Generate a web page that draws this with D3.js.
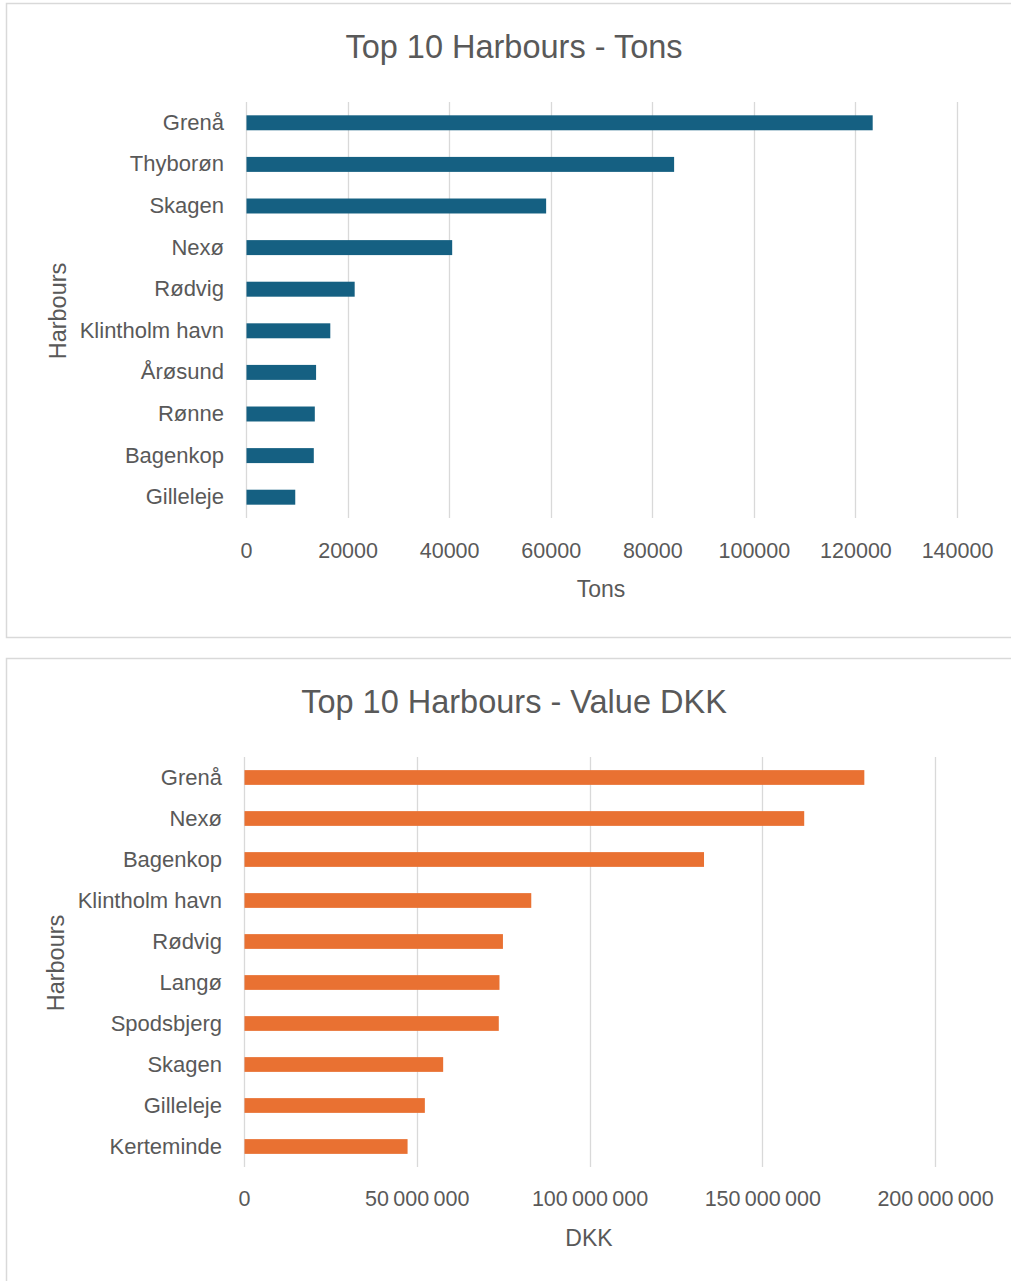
<!DOCTYPE html>
<html>
<head>
<meta charset="utf-8">
<script src="https://cdn.jsdelivr.net/npm/d3@7"></script>
<style>
  html, body { margin: 0; padding: 0; background: #fff; }
  svg { display: block; }
  svg text { font-family: "Liberation Sans", Arial, sans-serif; fill: #595959; }
</style>
</head>
<body>
<svg id="chart" width="1011" height="1281"></svg>
<script>
// Landings by harbour, in tons
const tonsHarbours = ["Grenå", "Thyborøn", "Skagen", "Nexø", "Rødvig", "Klintholm havn", "Årøsund", "Rønne", "Bagenkop", "Gilleleje"];
const tonsValues = [123300, 84200, 59000, 40500, 21300, 16500, 13700, 13450, 13250, 9600];
const tonsTicks = [0, 20000, 40000, 60000, 80000, 100000, 120000, 140000];

// Landings by harbour, value in DKK
const dkkHarbours = ["Grenå", "Nexø", "Bagenkop", "Klintholm havn", "Rødvig", "Langø", "Spodsbjerg", "Skagen", "Gilleleje", "Kerteminde"];
const dkkValues = [179400000, 162000000, 133000000, 83000000, 74800000, 73800000, 73600000, 57500000, 52200000, 47200000];
const dkkTicks = [0, 50000000, 100000000, 150000000, 200000000];

const svg = d3.select("#chart");

function spaced(n) {
  return d3.format(",")(n).replace(/,/g, "\u2009");
}

function panel(cfg) {
  const g = svg.append("g");
  g.append("rect")
    .attr("x", cfg.box[0] + 0.5).attr("y", cfg.box[1] + 0.5)
    .attr("width", cfg.box[2]).attr("height", cfg.box[3])
    .attr("fill", "#fff").attr("stroke", "#d9d9d9").attr("stroke-width", 1.5);

  const x = d3.scaleLinear().domain([0, cfg.max]).range([cfg.x0, cfg.x1]);
  const y = d3.scaleBand().domain(cfg.cats).range([cfg.y0, cfg.y1]).paddingInner(0.64).paddingOuter(0.32);

  // vertical gridlines
  g.append("g").selectAll("line").data(cfg.ticks).join("line")
    .attr("x1", d => Math.round(x(d)) + 0.5).attr("x2", d => Math.round(x(d)) + 0.5)
    .attr("y1", cfg.y0).attr("y2", cfg.y1)
    .attr("stroke", "#d9d9d9").attr("stroke-width", 1.3);

  // bars
  g.append("g").selectAll("rect").data(cfg.vals).join("rect")
    .attr("x", x(0) + 0.5)
    .attr("y", (d, i) => y(cfg.cats[i]))
    .attr("width", d => x(d) - x(0))
    .attr("height", y.bandwidth())
    .attr("fill", cfg.color);

  // category axis
  const ya = g.append("g").attr("transform", `translate(${cfg.x0},0)`)
    .call(d3.axisLeft(y).tickSize(0).tickPadding(cfg.catPad));
  ya.attr("font-family", null).attr("font-size", null);
  ya.select(".domain").remove();
  ya.selectAll("text").attr("font-size", 22).attr("fill", "#595959");

  // value axis
  const xa = g.append("g").attr("transform", `translate(0,${cfg.tickY})`)
    .call(d3.axisBottom(x).tickValues(cfg.ticks).tickSize(0).tickPadding(0).tickFormat(cfg.fmt));
  xa.attr("font-family", null).attr("font-size", null);
  xa.select(".domain").remove();
  xa.selectAll("text").attr("font-size", 21.5).attr("fill", "#595959").attr("dy", "0.35em");

  g.append("text").attr("x", cfg.titleX).attr("y", cfg.titleY)
    .attr("text-anchor", "middle").attr("font-size", 32.5).text(cfg.title);

  g.append("text").attr("x", cfg.xTitleX).attr("y", cfg.xTitleY)
    .attr("text-anchor", "middle").attr("dy", "0.35em").attr("font-size", 23).text(cfg.xTitle);

  g.append("text")
    .attr("transform", `translate(${cfg.yTitleX},${cfg.yTitleY}) rotate(-90)`)
    .attr("text-anchor", "middle").attr("dy", "0.35em").attr("font-size", 23.5).text("Harbours");
}

panel({
  box: [6, 3, 1010, 634],
  cats: tonsHarbours, vals: tonsValues, ticks: tonsTicks, max: 140000,
  x0: 246, x1: 957, y0: 102, y1: 518, catPad: 22, tickY: 550,
  color: "#156082", fmt: d3.format("d"),
  title: "Top 10 Harbours - Tons", titleX: 514, titleY: 58,
  xTitle: "Tons", xTitleX: 601, xTitleY: 589,
  yTitleX: 58, yTitleY: 311
});

panel({
  box: [6, 658, 1010, 630],
  cats: dkkHarbours, vals: dkkValues, ticks: dkkTicks, max: 200000000,
  x0: 244, x1: 935, y0: 757, y1: 1167, catPad: 22, tickY: 1198,
  color: "#e97132", fmt: spaced,
  title: "Top 10 Harbours - Value DKK", titleX: 514, titleY: 713,
  xTitle: "DKK", xTitleX: 589, xTitleY: 1238,
  yTitleX: 56, yTitleY: 963
});
</script>
</body>
</html>
